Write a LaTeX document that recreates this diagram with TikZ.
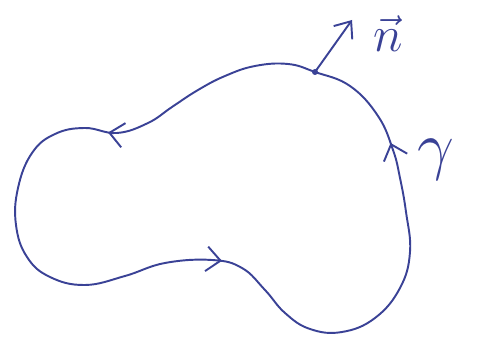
\documentclass[tikz,border=0pt]{standalone}
\usepackage{amsmath,amssymb}
\usetikzlibrary{arrows.meta,positioning,calc,decorations.markings}
\definecolor{ink}{RGB}{58,66,150}

\begin{document}
\begin{tikzpicture}[x=0.02cm,y=-0.02cm,
    pen/.style={ink, line width=1.1pt, line cap=round, line join=round},
    barb/.style={-{Straight Barb[length=8pt,width=13pt]}},
    label/.style={ink, font=\Huge}]
    \useasboundingbox (0,0) rectangle (483,350);

    % Closed contour gamma with orientation arrows
    \draw[pen, postaction={decorate}, decoration={markings,
            mark=at position 0.178 with {\arrow{Straight Barb[length=8pt,width=14pt]}},
            mark=at position 0.541 with {\arrow{Straight Barb[length=8pt,width=14pt]}},
            mark=at position 0.876 with {\arrow{Straight Barb[length=8pt,width=14pt]}}}]
        plot[smooth cycle, tension=0.7] coordinates {
            (315,72) (288,64) (255,66) (225,76) (198,90) (172,107) (148,123)
            (117,133) (85,128) (55,134) (32,153) (18,188) (16,225) (27,257)
            (50,277) (85,285) (125,276) (165,263) (212,260) (242,268) (265,290)
            (285,313) (310,329) (342,332) (375,318) (400,288) (410,252) (406,212)
            (400,178) (393,150) (378,116) (350,86)};

    % Normal vector
    \coordinate (foot) at (315,72);
    \coordinate (head) at (352,20);
    \fill[ink] (foot) circle (3);
    \draw[pen, barb] (foot) -- (head);

    % Labels
    \node[label, scale=1.15] (nvec) at (388,34) {$\vec{n}$};
    \node[label, scale=1.5] (gam) at (436,160) {$\gamma$};
\end{tikzpicture}
\end{document}
